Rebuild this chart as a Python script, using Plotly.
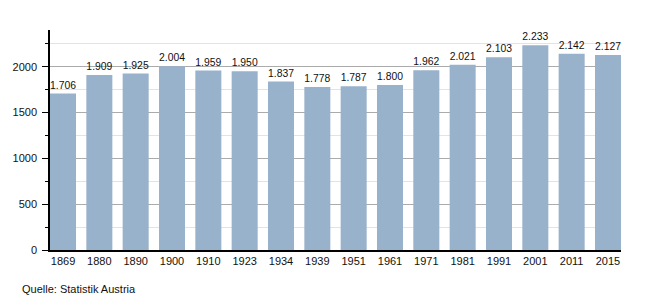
import plotly.graph_objects as go

years = ["1869", "1880", "1890", "1900", "1910", "1923", "1934", "1939",
         "1951", "1961", "1971", "1981", "1991", "2001", "2011", "2015"]
population = [1706, 1909, 1925, 2004, 1959, 1950, 1837, 1778,
              1787, 1800, 1962, 2021, 2103, 2233, 2142, 2127]
y_ticks = [0, 500, 1000, 1500, 2000]

xpos = list(range(len(years)))
bw = 0.716

fig = go.Figure(go.Bar(
    x=xpos, y=population, width=bw,
    marker=dict(color="#98b2cb", line=dict(width=0)),
    text=population, texttemplate="%{y:,}", textposition="outside",
    textfont=dict(family="Liberation Sans, Arial, sans-serif", size=11, color="#111"),
    cliponaxis=False, hoverinfo="skip",
))

fig.update_layout(
    width=650, height=300,
    margin=dict(l=50, r=29, t=30, b=50),
    plot_bgcolor="white", paper_bgcolor="white",
    separators=",.",
    showlegend=False,
    font=dict(family="Liberation Sans, Arial, sans-serif", size=11, color="#111"),
    xaxis=dict(
        range=[-bw / 2, len(years) - 1 + bw / 2],
        tickmode="array", tickvals=xpos, ticktext=years,
        showline=True, linecolor="black", linewidth=1.5,
        showgrid=False, zeroline=False, ticks="", ticklen=0,
        tickfont=dict(size=11),
    ),
    yaxis=dict(
        range=[0, 2400],
        tickmode="array", tickvals=y_ticks,
        showline=True, linecolor="black", linewidth=1.5,
        showgrid=True, gridcolor="#ababab", gridwidth=1,
        zeroline=False, ticks="outside", ticklen=6, tickcolor="black",
        ticklabelstandoff=3,
        tickfont=dict(size=11),
        minor=dict(dtick=250, tick0=0, showgrid=True, gridcolor="#e3e3e3",
                   ticks="outside", ticklen=3, tickcolor="black"),
    ),
    annotations=[dict(
        text="Quelle: Statistik Austria", xref="paper", yref="paper",
        x=-30 / 571, y=-0.14, xanchor="left", yanchor="top",
        showarrow=False, font=dict(size=11, color="#111"),
    )],
)

fig.write_html("out.html")
